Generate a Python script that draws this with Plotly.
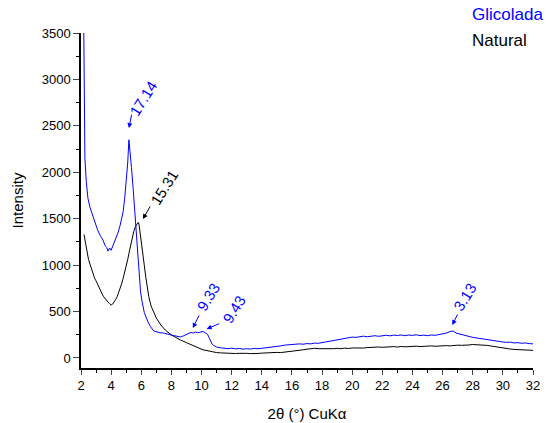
import plotly.graph_objects as go

# ---- data ----
glic_x = [2.18, 2.22, 2.26, 2.35, 2.46, 2.6, 2.8, 3.0, 3.1, 3.3, 3.46, 3.6, 3.7, 3.8, 3.9, 4.0,
          4.1, 4.2, 4.3, 4.45, 4.6, 4.7, 4.8, 4.9, 5.0, 5.1, 5.18, 5.25, 5.35, 5.45, 5.55, 5.65,
          5.75, 5.85, 5.95, 6.05, 6.2, 6.44, 6.6, 6.83, 7.0, 7.25, 7.5, 7.75, 7.96, 8.2, 8.4, 8.6,
          8.8, 9.0, 9.15, 9.3, 9.45, 9.6, 9.75, 9.95, 10.1, 10.25, 10.4, 10.5, 10.6, 10.7, 10.8,
          10.9, 11.0, 11.25, 11.5, 11.75, 12.0, 12.25, 12.5, 12.75, 13.0, 13.25, 13.5, 13.75, 14.0,
          14.25, 14.5, 14.75, 15.0, 15.25, 15.5, 15.75, 16.0, 16.25, 16.5, 16.75, 17.0, 17.25, 17.5,
          17.75, 18.0, 18.25, 18.5, 18.75, 19.0, 19.25, 19.5, 19.75, 20.0, 20.25, 20.5, 20.75, 21.0,
          21.25, 21.5, 21.75, 22.0, 22.25, 22.5, 22.75, 23.0, 23.25, 23.5, 23.75, 24.0, 24.25, 24.5,
          24.75, 25.0, 25.25, 25.5, 25.75, 26.0, 26.25, 26.5, 26.7, 26.9, 27.1, 27.3, 27.5, 27.75,
          28.0, 28.25, 28.5, 28.75, 29.0, 29.25, 29.5, 29.75, 30.0, 30.25, 30.5, 30.75, 31.0, 31.25,
          31.5, 31.75, 32.0]
glic_y = [3600, 2700, 2150, 1900, 1720, 1620, 1520, 1420, 1380, 1310, 1270, 1210, 1190, 1150, 1185, 1160,
          1200, 1230, 1270, 1345, 1430, 1500, 1580, 1720, 1880, 2100, 2350, 2250, 2050, 1850, 1600, 1350,
          1100, 880, 720, 610, 490, 390, 340, 290, 280, 272, 268, 255, 248, 240, 232, 226,
          238, 250, 262, 275, 268, 280, 272, 278, 285, 270, 255, 220, 178, 150, 135,
          125, 118, 110, 104, 100, 106, 98, 102, 95, 100, 96, 103, 99, 104,
          108, 112, 118, 125, 130, 138, 142, 150, 146, 152, 148, 155, 152, 160,
          158, 165, 172, 180, 188, 196, 205, 210, 218, 225, 222, 230, 235, 228,
          236, 240, 233, 240, 245, 238, 246, 242, 248, 240, 247, 243, 250, 241,
          246, 240, 248, 244, 250, 258, 268, 285, 290, 268, 258, 248, 240, 232,
          222, 215, 208, 200, 192, 185, 180, 176, 172, 168, 170, 162, 165, 158,
          162, 155, 152]

nat_x = [2.2, 2.25, 2.3, 2.4, 2.5, 2.6, 2.7, 2.8, 2.9, 3.0, 3.1, 3.2, 3.3, 3.4, 3.5, 3.6, 3.7, 3.8,
         3.9, 4.0, 4.1, 4.2, 4.3, 4.4, 4.5, 4.6, 4.7, 4.8, 4.9, 5.0, 5.1, 5.2, 5.3, 5.4, 5.5, 5.6,
         5.7, 5.8, 5.85, 5.95, 6.1, 6.2, 6.3, 6.4, 6.5, 6.65, 6.83, 7.0, 7.3, 7.6, 8.0, 8.3, 8.6,
         9.0, 9.3, 9.7, 10.1, 10.5, 10.75, 11.0, 11.25, 11.5, 11.75, 12.0, 12.25, 12.5, 12.75, 13.0,
         13.25, 13.5, 13.75, 14.0, 14.25, 14.5, 14.75, 15.0, 15.25, 15.5, 15.75, 16.0, 16.25, 16.5,
         16.75, 17.0, 17.25, 17.5, 17.75, 18.0, 18.25, 18.5, 18.75, 19.0, 19.25, 19.5, 19.75, 20.0,
         20.25, 20.5, 20.75, 21.0, 21.25, 21.5, 21.75, 22.0, 22.25, 22.5, 22.75, 23.0, 23.25, 23.5,
         23.75, 24.0, 24.25, 24.5, 24.75, 25.0, 25.25, 25.5, 25.75, 26.0, 26.25, 26.5, 26.75, 27.0,
         27.25, 27.5, 27.75, 28.0, 28.25, 28.5, 28.75, 29.0, 29.25, 29.5, 29.75, 30.0, 30.25, 30.5,
         30.75, 31.0, 31.25, 31.5, 31.75, 32.0]
nat_y = [1330, 1280, 1210, 1120, 1060, 1010, 960, 900, 860, 830, 790, 750, 720, 690, 660, 640, 610, 600,
         585, 570, 580, 600, 630, 660, 700, 750, 800, 860, 920, 990, 1060, 1140, 1220, 1300, 1360, 1410,
         1440, 1460, 1440, 1330, 1160, 1000, 870, 760, 660, 560, 485, 430, 355, 300, 248, 220, 194,
         165, 140, 115, 88, 72, 64, 58, 55, 52, 50, 52, 48, 50, 46, 50,
         47, 52, 49, 52, 55, 54, 58, 60, 58, 62, 64, 68, 72, 80,
         88, 95, 100, 104, 100, 98, 102, 96, 100, 104, 100, 106, 102, 108,
         105, 110, 107, 112, 115, 112, 118, 115, 120, 117, 122, 118, 124, 120,
         125, 122, 127, 123, 128, 125, 130, 126, 131, 128, 133, 130, 135, 138,
         136, 142, 140, 145, 143, 145, 140, 135, 128, 120, 112, 106, 100, 96,
         92, 90, 86, 88, 84, 82]

# peak labels: text, arrow-head position (2θ, intensity), colour group
peak_text = ["17.14", "15.31", "9.33", "9.43", "3.13"]
peak_x = [5.18, 6.11, 9.42, 10.34, 26.64]
peak_y = [2476, 1496, 323, 312, 355]
peak_series = ["Glicolada", "Natural", "Glicolada", "Glicolada", "Glicolada"]

series_names = ["Glicolada", "Natural"]
series_colors = {"Glicolada": "#0000FF", "Natural": "#000000"}

FONT = "Liberation Sans, Arial, sans-serif"

fig = go.Figure()
fig.add_trace(go.Scatter(x=nat_x, y=nat_y, mode="lines", name="Natural",
                         line=dict(color=series_colors["Natural"], width=1)))
fig.add_trace(go.Scatter(x=glic_x, y=glic_y, mode="lines", name="Glicolada",
                         line=dict(color=series_colors["Glicolada"], width=1)))

# arrow offsets (pixels) and text offsets
arrow_off = [(3, -15), (8, -14), (7, -14), (14, -6), (6, -12)]
text_off = [(14, 30), (21, 32), (16, 31), (27, 20), (12, 28)]
for t, px, py, s, (ax, ay), (dx, dy) in zip(peak_text, peak_x, peak_y, peak_series, arrow_off, text_off):
    c = series_colors[s]
    fig.add_annotation(x=px, y=py, xref="x", yref="y", text="", showarrow=True,
                       ax=ax, ay=ay, arrowhead=2, arrowsize=1, arrowwidth=1,
                       arrowcolor=c, standoff=0, startstandoff=0)
    fig.add_annotation(x=px, y=py, xref="x", yref="y", text=t, showarrow=False,
                       xshift=dx, yshift=dy, textangle=-58,
                       font=dict(family=FONT, size=15, color=c),
                       xanchor="center", yanchor="middle")

W, H = 549, 423
L, R, T, B = 81, 16, 33, 55

# legend as plain text (pixel positions converted to paper coords)
for i, n in enumerate(series_names):
    px_x, px_y = 470, 15 + 25 * i
    fig.add_annotation(x=(px_x - L) / (W - L - R), y=(H - px_y - B) / (H - T - B),
                       xref="paper", yref="paper",
                       text=n, showarrow=False, xanchor="left", yanchor="middle",
                       font=dict(family=FONT, size=17, color=series_colors[n]))

fig.update_layout(
    width=W, height=H,
    margin=dict(l=L, r=R, t=T, b=B, autoexpand=False),
    paper_bgcolor="white", plot_bgcolor="white",
    showlegend=False,
    font=dict(family=FONT, size=13, color="#000000"),
)
fig.update_xaxes(range=[2, 32], tickvals=list(range(2, 33, 2)), ticks="outside", ticklen=5,
                 tickwidth=1, showline=True, linecolor="black", linewidth=1.5,
                 showgrid=False, zeroline=False, automargin=False,
                 minor=dict(ticks="outside", dtick=1, ticklen=3, tickcolor="black"),
                 title=dict(text="2θ (°) CuKα", font=dict(size=15), standoff=16),
                 tickfont=dict(size=13))
fig.update_yaxes(range=[-108, 3500], tickvals=list(range(0, 3501, 500)), ticks="outside",
                 ticklen=6, tickwidth=1, showline=True, linecolor="black", linewidth=1.5,
                 showgrid=False, zeroline=False, automargin=False,
                 minor=dict(ticks="outside", tick0=0, dtick=250, ticklen=3, tickcolor="black"),
                 title=dict(text="Intensity", font=dict(size=15), standoff=14),
                 tickfont=dict(size=13))

fig.write_html("out.html")
